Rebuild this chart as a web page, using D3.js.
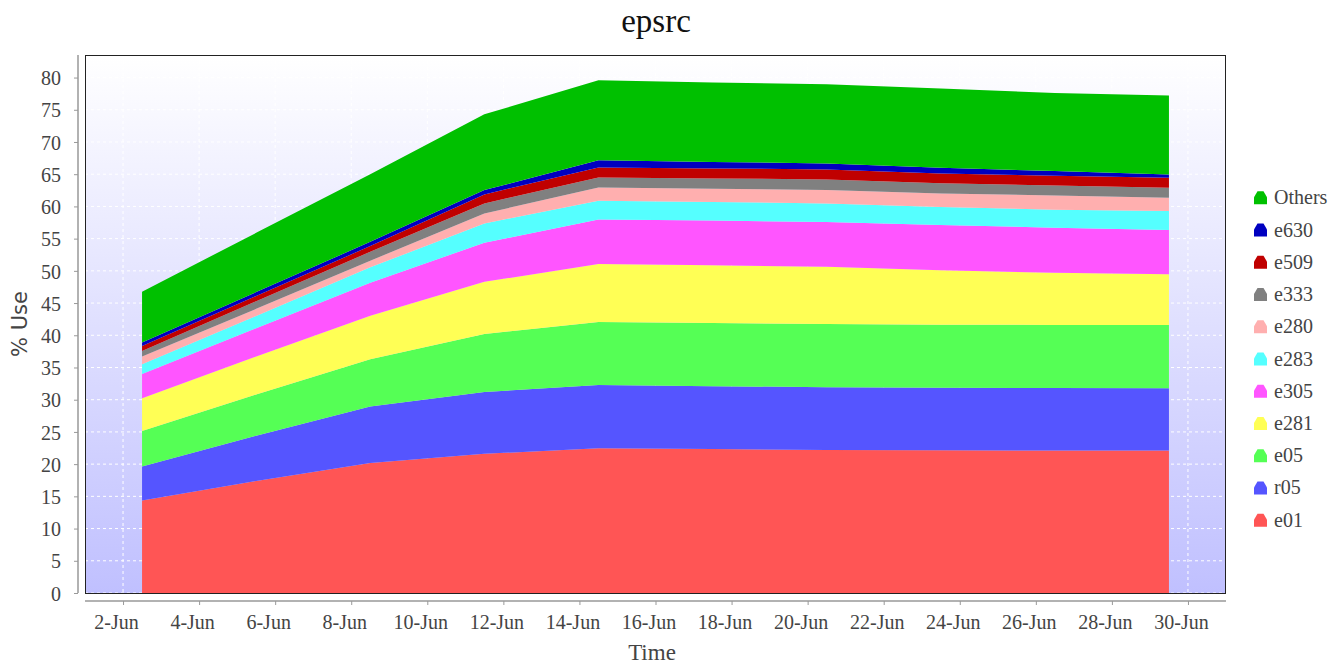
<!DOCTYPE html>
<html>
<head>
<meta charset="utf-8">
<script src="https://cdn.jsdelivr.net/npm/d3@7"></script>
<style>
  html, body { margin: 0; padding: 0; background: #ffffff; }
  svg { display: block; }
</style>
</head>
<body>
<svg id="chart" width="1343" height="666"></svg>
<script>
// ---- data ----
const title = "epsrc";
const xLabel = "Time";
const yLabel = "% Use";
const dates = ["2011-06-02T12:00", "2011-06-05T12:00", "2011-06-08T12:00", "2011-06-11T12:00", "2011-06-14T12:00",
               "2011-06-17T12:00", "2011-06-20T12:00", "2011-06-23T12:00", "2011-06-26T12:00", "2011-06-29T12:00"];
const seriesNames = ["e01", "r05", "e05", "e281", "e305", "e283", "e280", "e333", "e509", "e630", "Others"];
const seriesColors = ["#FF5555", "#5555FF", "#55FF55", "#FFFF55", "#FF55FF", "#55FFFF", "#FFAFAF", "#808080", "#C00000", "#0000C0", "#00C000"];
const e01    = [14.36, 17.4, 20.16, 21.6, 22.48, 22.35, 22.2, 22.15, 22.1, 22.1];
const r05    = [5.27, 7.0, 8.77, 9.6, 9.82, 9.75, 9.74, 9.7, 9.7, 9.68];
const e05    = [5.53, 6.4, 7.35, 9.0, 9.76, 9.8, 9.81, 9.8, 9.8, 9.82];
const e281   = [5.07, 5.9, 6.76, 8.1, 8.99, 8.95, 8.89, 8.45, 8.1, 7.86];
const e305   = [3.77, 4.4, 5.12, 6.06, 6.93, 6.95, 6.93, 7.0, 7.0, 6.87];
const e283   = [1.5, 1.9, 2.38, 3.0, 2.89, 2.9, 2.9, 2.8, 2.8, 2.94];
const e280   = [1.2, 1.1, 1.03, 1.54, 2.08, 2.05, 2.06, 2.1, 2.2, 2.06];
const e333   = [0.87, 1.2, 1.39, 1.57, 1.55, 1.6, 1.66, 1.6, 1.55, 1.55];
const e509   = [0.77, 0.8, 0.88, 1.39, 1.55, 1.55, 1.55, 1.5, 1.5, 1.55];
const e630   = [0.52, 0.6, 0.66, 0.67, 1.13, 1.0, 0.93, 0.9, 0.75, 0.53];
const others = [7.9, 9.2, 10.5, 11.77, 12.4, 12.35, 12.29, 12.3, 12.1, 12.24];
const yTicks = [0, 5, 10, 15, 20, 25, 30, 35, 40, 45, 50, 55, 60, 65, 70, 75, 80];
const xTickDates = ["2011-06-02", "2011-06-04", "2011-06-06", "2011-06-08", "2011-06-10", "2011-06-12", "2011-06-14",
                    "2011-06-16", "2011-06-18", "2011-06-20", "2011-06-22", "2011-06-24", "2011-06-26", "2011-06-28", "2011-06-30"];
const xDomain = ["2011-06-01", "2011-07-01"];
const yMax = 83.5;

const seriesValues = [e01, r05, e05, e281, e305, e283, e280, e333, e509, e630, others];

// ---- layout ----
const svg = d3.select("#chart");
const plot = { left: 85, right: 1226, top: 55, bottom: 593 };
const parse = d3.utcParse("%Y-%m-%dT%H:%M");
const parseDay = d3.utcParse("%Y-%m-%d");

const x = d3.scaleUtc().domain(xDomain.map(parseDay)).range([plot.left, plot.right]);
const y = d3.scaleLinear().domain([0, yMax]).range([plot.bottom, plot.top]);

const rows = dates.map((d, i) => {
  const r = { date: parse(d) };
  seriesNames.forEach((s, k) => { r[s] = seriesValues[k][i]; });
  return r;
});
const stacked = d3.stack().keys(seriesNames)(rows);

// background gradient
const defs = svg.append("defs");
const grad = defs.append("linearGradient").attr("id", "bg").attr("x1", 0).attr("y1", 0).attr("x2", 0).attr("y2", 1);
grad.append("stop").attr("offset", "0%").attr("stop-color", "#FFFFFF");
grad.append("stop").attr("offset", "100%").attr("stop-color", "#C0C0FF");
defs.append("clipPath").attr("id", "clip").append("rect")
  .attr("x", plot.left).attr("y", plot.top).attr("width", plot.right - plot.left).attr("height", plot.bottom - plot.top);

svg.append("rect").attr("x", plot.left).attr("y", plot.top)
  .attr("width", plot.right - plot.left).attr("height", plot.bottom - plot.top)
  .attr("fill", "url(#bg)");

// gridlines
const grid = svg.append("g").attr("clip-path", "url(#clip)");
grid.selectAll("line.h").data(yTicks).join("line")
  .attr("x1", plot.left).attr("x2", plot.right)
  .attr("y1", d => y(d)).attr("y2", d => y(d))
  .attr("stroke", "#ffffff").attr("stroke-width", 1).attr("stroke-dasharray", "3,3");
grid.selectAll("line.v").data(xTickDates.map(parseDay)).join("line")
  .attr("y1", plot.top).attr("y2", plot.bottom)
  .attr("x1", d => x(d)).attr("x2", d => x(d))
  .attr("stroke", "#ffffff").attr("stroke-width", 1).attr("stroke-dasharray", "3,3");

// areas
const area = d3.area().x(d => x(d.data.date)).y0(d => y(d[0])).y1(d => y(d[1]));
svg.append("g").attr("clip-path", "url(#clip)")
  .selectAll("path").data(stacked).join("path")
  .attr("d", area)
  .attr("fill", (d, i) => seriesColors[i]);

// plot outline
svg.append("rect").attr("x", plot.left + 0.5).attr("y", plot.top + 0.5)
  .attr("width", plot.right - plot.left - 1).attr("height", plot.bottom - plot.top)
  .attr("fill", "none").attr("stroke", "#222").attr("stroke-width", 1);

// y axis
const yAxis = d3.axisLeft(y).tickValues(yTicks).tickSize(4).tickSizeOuter(0).tickPadding(13);
const gy = svg.append("g").attr("transform", `translate(78,0)`).call(yAxis);
gy.select(".domain").attr("stroke", "#999").attr("stroke-width", 1.5).attr("d", `M0,${plot.top}V${plot.bottom}`);
gy.selectAll(".tick line").attr("stroke", "#999");
gy.selectAll(".tick text").attr("font-family", "'Liberation Serif', serif").attr("font-size", 20).attr("fill", "#444")
  .attr("dy", "0.36em");

// x axis
const xAxis = d3.axisBottom(x).tickValues(xTickDates.map(parseDay)).tickFormat(d3.utcFormat("%-d-%b")).tickSize(4).tickSizeOuter(0).tickPadding(10);
const gx = svg.append("g").attr("transform", `translate(0,601)`).call(xAxis);
gx.select(".domain").attr("stroke", "#999").attr("stroke-width", 1.5).attr("d", `M${plot.left},0H${plot.right}`);
gx.selectAll(".tick line").attr("stroke", "#999");
gx.selectAll(".tick text").attr("font-family", "'Liberation Serif', serif").attr("font-size", 20).attr("fill", "#444")
  .attr("dx", -7);

// title and labels
svg.append("text").attr("x", 656).attr("y", 32).attr("text-anchor", "middle")
  .attr("font-family", "'Liberation Serif', serif").attr("font-size", 33).attr("fill", "#111").text(title);
svg.append("text").attr("x", 652).attr("y", 660).attr("text-anchor", "middle")
  .attr("font-family", "'Liberation Serif', serif").attr("font-size", 23).attr("fill", "#444").text(xLabel);
svg.append("text").attr("transform", "translate(27,324) rotate(-90)").attr("text-anchor", "middle")
  .attr("font-family", "'DejaVu Sans', sans-serif").attr("font-size", 21).attr("fill", "#444").text(yLabel);

// legend (reverse order: Others on top)
const legendOrder = seriesNames.map((n, i) => ({ name: n, color: seriesColors[i] })).reverse();
const lg = svg.append("g");
const item = lg.selectAll("g").data(legendOrder).join("g")
  .attr("transform", (d, i) => `translate(1254,${204.3 + i * 32.24})`);
item.append("path").attr("d", "M0,0 L0,-7 L3.5,-13 L9.5,-13 L13,-7 L13,0 Z").attr("fill", d => d.color);
item.append("text").attr("x", 20).attr("y", 0)
  .attr("font-family", "'Liberation Serif', serif").attr("font-size", 20).attr("fill", "#444").text(d => d.name);
</script>
</body>
</html>
